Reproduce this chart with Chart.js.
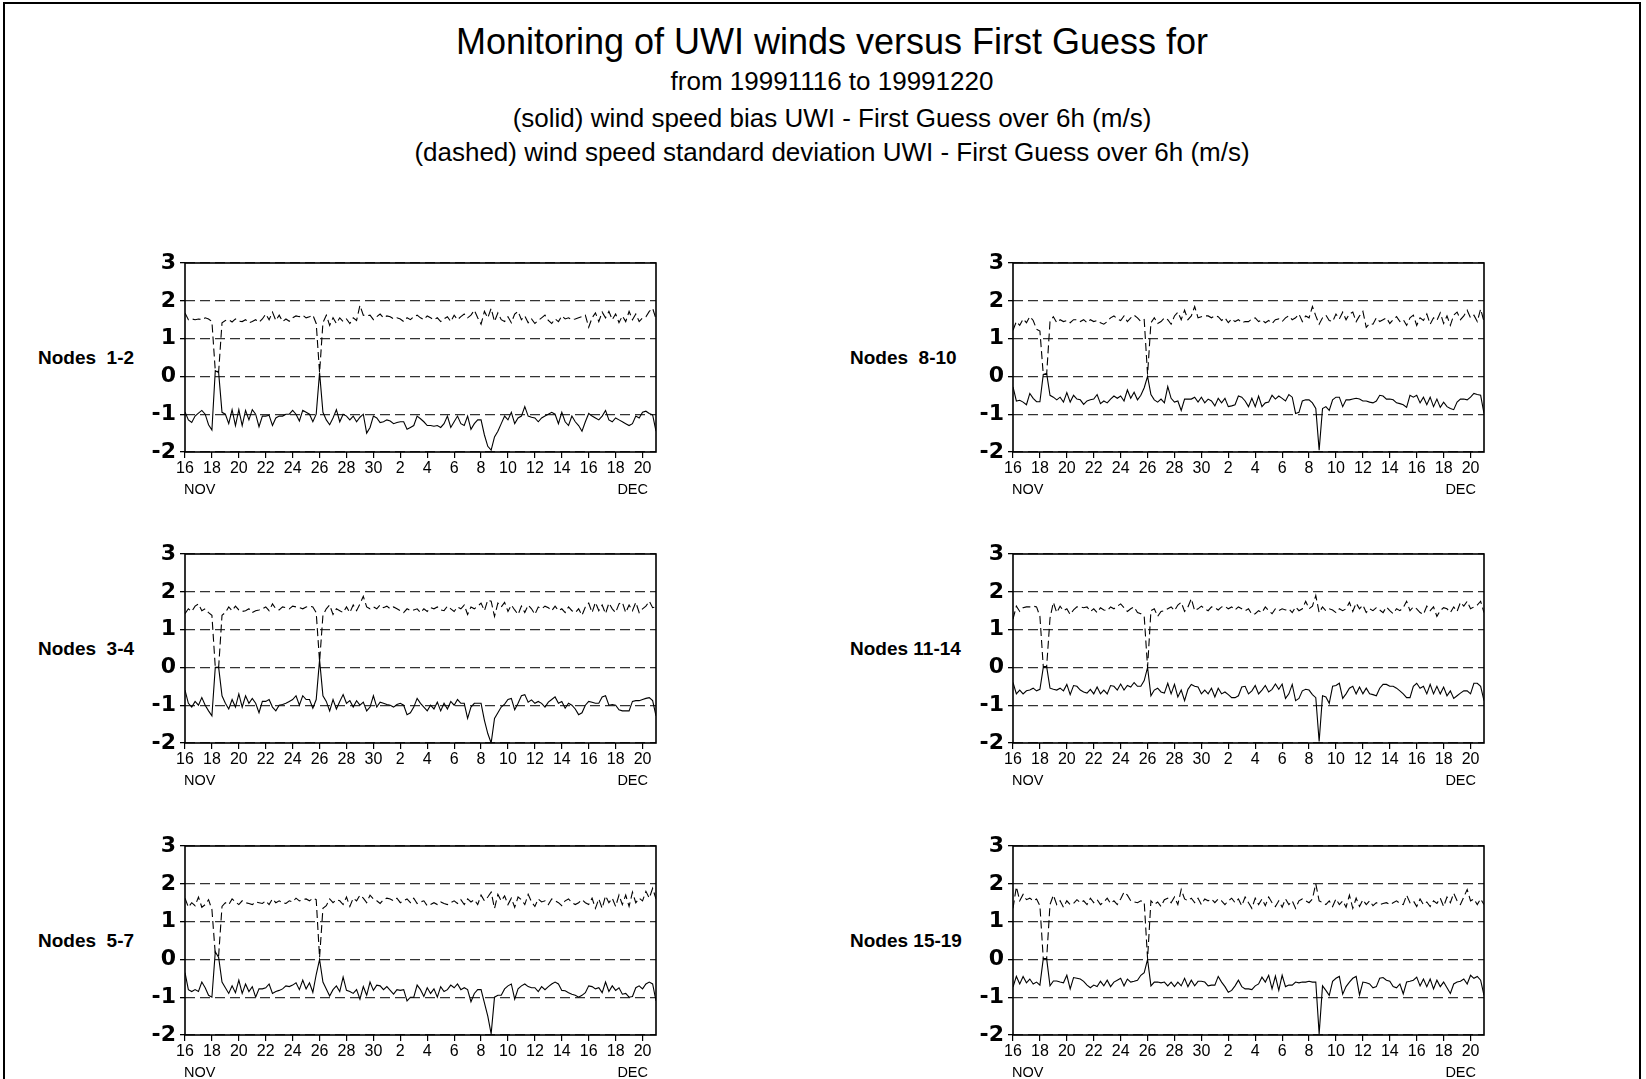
<!DOCTYPE html>
<html>
<head>
<meta charset="utf-8">
<script src="https://cdn.jsdelivr.net/npm/chart.js@4.4.1/dist/chart.umd.min.js"></script>
<style>
  body { margin: 0; background: #fff; }
  #page { position: relative; width: 1646px; height: 1079px; overflow: hidden; background: #fff;
          font-family: "Liberation Sans", Arial, sans-serif; color: #000; }
  .frame { position: absolute; left: 3px; top: 2px; width: 1634px; height: 1200px; border: 2px solid #000; }
  .head { position: absolute; left: 332px; width: 1000px; text-align: center; white-space: nowrap; }
  .node { position: absolute; font-weight: bold; font-size: 19px; line-height: 22px; white-space: nowrap; }
  canvas { position: absolute; }
</style>
</head>
<body>
<div id="page">
  <div class="frame"></div>
  <div class="head" style="top:20px;font-size:36px;line-height:44px;">Monitoring of UWI winds versus First Guess for</div>
  <div class="head" style="top:66px;font-size:26px;line-height:30px;">from 19991116 to 19991220</div>
  <div class="head" style="top:103px;font-size:26px;line-height:30px;">(solid) wind speed bias UWI - First Guess over 6h (m/s)</div>
  <div class="head" style="top:137px;font-size:26px;line-height:30px;">(dashed) wind speed standard deviation UWI - First Guess over 6h (m/s)</div>
</div>
<script>
// x axis: 6-hourly samples, 16 Nov 00Z .. 21 Dec 00Z (day offsets)
const dayLabels = ['16','18','20','22','24','26','28','30','2','4','6','8','10','12','14','16','18','20'];
const yTicks = [-2, -1, 0, 1, 2, 3];
const nodeNames = ['Nodes\u00a0\u00a01-2', 'Nodes\u00a0\u00a08-10', 'Nodes\u00a0\u00a03-4', 'Nodes 11-14', 'Nodes\u00a0\u00a05-7', 'Nodes 15-19'];

const bias12 = [
 -0.94,-1.15,-1.22,-1.05,-0.97,-0.9,-1.0,-1.28,-1.42,0.15,
 0.1,-0.95,-1.0,-1.25,-0.88,-1.3,-0.88,-1.3,-0.9,-1.15,
 -0.88,-1.0,-1.33,-1.05,-1.05,-1.03,-1.3,-1.1,-1.05,-1.05,
 -1.0,-1.0,-0.9,-1.0,-1.18,-0.9,-0.95,-1.0,-1.2,-1.0,
 0.1,-0.95,-1.15,-1.28,-1.1,-0.88,-1.2,-1.0,-1.05,-1.15,
 -1.05,-1.2,-1.08,-1.0,-1.5,-1.35,-1.05,-1.1,-1.22,-1.2,
 -1.15,-1.18,-1.25,-1.22,-1.2,-1.2,-1.4,-1.35,-1.3,-1.05,
 -1.12,-1.2,-1.3,-1.3,-1.32,-1.3,-1.35,-1.25,-1.05,-1.35,
 -1.2,-1.05,-1.25,-1.3,-1.05,-1.4,-1.25,-1.15,-1.15,-1.55,
 -1.85,-1.95,-1.6,-1.45,-1.25,-1.05,-1.15,-0.95,-1.25,-1.1,
 -1.05,-0.8,-1.05,-1.08,-1.1,-1.2,-1.1,-1.05,-1.0,-0.95,
 -1.0,-1.25,-0.95,-1.2,-1.3,-1.05,-1.2,-1.3,-1.45,-1.2,
 -0.98,-1.05,-1.1,-1.15,-1.05,-0.9,-1.15,-1.2,-1.1,-1.15,
 -1.2,-1.25,-1.3,-1.25,-1.05,-1.1,-0.95,-0.92,-0.98,-1.02,-1.45];
const std12 = [
 1.68,1.5,1.52,1.5,1.52,1.5,1.55,1.52,1.45,0.15,
 0.12,1.42,1.48,1.5,1.44,1.52,1.46,1.45,1.5,1.42,
 1.45,1.5,1.43,1.52,1.65,1.5,1.7,1.48,1.62,1.45,
 1.52,1.46,1.55,1.6,1.58,1.62,1.55,1.58,1.62,1.4,
 0.1,1.42,1.62,1.35,1.55,1.4,1.55,1.45,1.52,1.4,
 1.55,1.48,1.88,1.62,1.6,1.62,1.5,1.58,1.65,1.55,
 1.6,1.58,1.52,1.55,1.52,1.45,1.55,1.5,1.58,1.62,
 1.55,1.5,1.6,1.55,1.5,1.55,1.45,1.52,1.58,1.45,
 1.62,1.5,1.58,1.65,1.55,1.62,1.75,1.55,1.38,1.72,
 1.55,1.8,1.45,1.68,1.5,1.45,1.58,1.42,1.65,1.72,
 1.5,1.6,1.42,1.52,1.4,1.48,1.55,1.62,1.48,1.4,
 1.52,1.45,1.6,1.52,1.55,1.5,1.52,1.55,1.58,1.62,
 1.3,1.55,1.68,1.45,1.7,1.55,1.72,1.5,1.65,1.42,
 1.6,1.45,1.72,1.5,1.65,1.45,1.55,1.58,1.72,1.8,1.52];

const bias34 = [
 -0.6,-0.95,-1.05,-0.9,-1.0,-0.8,-1.0,-1.15,-1.28,0.0,
 0.0,-0.75,-0.95,-1.1,-0.85,-1.05,-0.7,-1.05,-0.75,-0.95,
 -0.82,-0.95,-1.2,-0.9,-0.9,-0.85,-1.05,-1.15,-1.0,-0.98,
 -0.95,-0.9,-0.85,-0.75,-1.0,-0.75,-0.85,-0.85,-1.08,-0.85,
 0.2,-0.75,-0.9,-1.15,-0.85,-1.1,-0.9,-0.72,-0.95,-0.88,
 -1.05,-0.88,-1.0,-0.92,-1.15,-1.05,-0.75,-1.05,-0.92,-0.95,
 -0.98,-1.0,-1.05,-0.98,-0.95,-1.0,-1.25,-1.2,-1.05,-0.82,
 -0.95,-1.05,-1.15,-1.0,-1.1,-0.92,-1.15,-0.95,-1.1,-0.9,
 -1.0,-0.85,-0.95,-0.95,-1.35,-1.05,-0.95,-0.95,-0.95,-1.4,
 -1.75,-2.0,-1.35,-1.2,-1.05,-0.97,-0.85,-0.82,-1.12,-0.95,
 -0.75,-0.72,-0.92,-0.86,-0.95,-0.9,-0.95,-1.05,-0.92,-0.85,
 -0.78,-0.95,-0.9,-1.08,-0.95,-1.0,-1.1,-1.25,-1.2,-1.0,
 -0.9,-0.92,-0.95,-0.95,-0.78,-0.75,-1.0,-0.98,-1.0,-1.12,
 -1.15,-1.15,-1.15,-0.9,-0.88,-0.88,-0.85,-0.82,-0.8,-0.88,-1.28];
const std34 = [
 1.42,1.55,1.48,1.62,1.68,1.5,1.55,1.45,1.38,0.0,
 0.0,1.38,1.45,1.6,1.5,1.62,1.52,1.48,1.5,1.55,
 1.45,1.5,1.52,1.55,1.6,1.5,1.68,1.55,1.52,1.6,
 1.58,1.55,1.62,1.6,1.58,1.55,1.6,1.62,1.6,1.45,
 0.15,1.38,1.55,1.65,1.4,1.55,1.5,1.45,1.6,1.45,
 1.65,1.5,1.68,1.88,1.6,1.55,1.6,1.55,1.65,1.58,
 1.62,1.55,1.6,1.55,1.5,1.45,1.55,1.5,1.52,1.55,
 1.45,1.55,1.48,1.58,1.55,1.6,1.52,1.5,1.62,1.55,
 1.48,1.6,1.55,1.65,1.4,1.6,1.55,1.62,1.7,1.5,
 1.78,1.75,1.35,1.7,1.6,1.72,1.48,1.65,1.52,1.4,
 1.62,1.45,1.65,1.55,1.4,1.6,1.55,1.62,1.58,1.5,
 1.62,1.5,1.55,1.45,1.6,1.5,1.45,1.55,1.38,1.6,
 1.7,1.45,1.72,1.5,1.65,1.42,1.7,1.55,1.45,1.68,
 1.72,1.45,1.65,1.5,1.72,1.45,1.55,1.62,1.75,1.58,1.6];

const bias57 = [
 -0.35,-0.8,-0.85,-0.8,-0.85,-0.6,-0.75,-0.95,-1.0,0.2,
 0.05,-0.6,-0.75,-0.9,-0.7,-0.88,-0.55,-0.9,-0.65,-0.85,
 -0.72,-1.0,-0.78,-0.78,-0.75,-0.65,-0.9,-0.85,-0.82,-0.78,
 -0.7,-0.72,-0.68,-0.62,-0.8,-0.55,-0.78,-0.62,-0.87,-0.4,
 0.0,-0.6,-0.78,-0.97,-0.8,-0.7,-0.85,-0.47,-0.82,-0.85,
 -0.9,-0.8,-1.05,-0.72,-0.95,-0.6,-0.82,-0.68,-0.7,-0.8,
 -0.72,-0.82,-0.92,-0.8,-0.82,-0.8,-1.1,-1.0,-1.0,-0.68,
 -0.8,-0.98,-0.75,-0.9,-0.78,-1.0,-0.72,-0.85,-0.8,-0.68,
 -0.75,-0.65,-0.8,-0.75,-0.8,-1.12,-0.9,-0.8,-0.8,-1.15,
 -1.5,-1.97,-1.0,-0.95,-0.95,-0.78,-0.7,-0.65,-1.05,-0.78,
 -0.7,-0.65,-0.72,-0.75,-0.75,-0.85,-0.72,-0.8,-0.72,-0.65,
 -0.6,-0.65,-0.82,-0.83,-0.88,-0.92,-0.95,-1.0,-0.95,-0.88,
 -0.7,-0.72,-0.78,-0.75,-0.88,-0.6,-0.85,-0.7,-0.82,-0.75,
 -0.92,-0.9,-1.0,-0.98,-0.75,-0.7,-0.78,-0.65,-0.6,-0.65,-1.1];
const std57 = [
 1.62,1.38,1.5,1.42,1.65,1.38,1.45,1.58,1.32,0.15,
 0.1,1.4,1.5,1.45,1.6,1.52,1.45,1.55,1.5,1.48,
 1.45,1.52,1.5,1.48,1.55,1.45,1.6,1.5,1.55,1.5,
 1.48,1.55,1.52,1.62,1.55,1.58,1.6,1.55,1.62,1.58,
 0.05,1.35,1.42,1.6,1.5,1.58,1.55,1.45,1.65,1.4,
 1.62,1.55,1.7,1.62,1.5,1.7,1.6,1.55,1.48,1.58,
 1.62,1.6,1.55,1.62,1.5,1.55,1.6,1.5,1.62,1.48,
 1.52,1.55,1.42,1.45,1.5,1.45,1.52,1.48,1.45,1.5,
 1.55,1.48,1.58,1.45,1.6,1.52,1.58,1.45,1.7,1.55,
 1.65,1.78,1.35,1.72,1.55,1.68,1.45,1.62,1.38,1.65,
 1.58,1.45,1.72,1.52,1.4,1.6,1.52,1.55,1.45,1.6,
 1.55,1.5,1.42,1.55,1.6,1.5,1.45,1.5,1.58,1.5,
 1.45,1.62,1.35,1.6,1.35,1.68,1.5,1.62,1.4,1.7,
 1.45,1.7,1.4,1.78,1.5,1.62,1.55,1.8,1.62,1.88,1.6];

const bias810 = [
 -0.28,-0.65,-0.63,-0.68,-0.75,-0.45,-0.58,-0.67,-0.67,0.05,
 0.08,-0.5,-0.55,-0.62,-0.55,-0.68,-0.43,-0.68,-0.5,-0.6,
 -0.62,-0.74,-0.65,-0.62,-0.6,-0.48,-0.72,-0.65,-0.7,-0.6,
 -0.52,-0.58,-0.52,-0.65,-0.36,-0.58,-0.42,-0.62,-0.5,-0.3,
 0.0,-0.48,-0.62,-0.68,-0.6,-0.7,-0.27,-0.58,-0.68,-0.65,
 -0.9,-0.6,-0.6,-0.6,-0.55,-0.68,-0.55,-0.7,-0.6,-0.65,
 -0.78,-0.58,-0.7,-0.58,-0.8,-0.78,-0.75,-0.52,-0.55,-0.65,
 -0.8,-0.58,-0.8,-0.52,-0.8,-0.7,-0.68,-0.5,-0.6,-0.52,
 -0.58,-0.65,-0.48,-0.55,-0.98,-0.95,-0.65,-0.62,-0.62,-0.7,
 -0.85,-1.95,-0.85,-0.8,-0.9,-0.62,-0.55,-0.55,-0.8,-0.62,
 -0.62,-0.6,-0.58,-0.6,-0.65,-0.65,-0.68,-0.7,-0.65,-0.5,
 -0.52,-0.6,-0.6,-0.62,-0.7,-0.72,-0.75,-0.82,-0.5,-0.55,
 -0.5,-0.7,-0.55,-0.75,-0.55,-0.8,-0.6,-0.82,-0.68,-0.8,
 -0.85,-0.88,-0.68,-0.6,-0.6,-0.62,-0.55,-0.45,-0.48,-0.5,-0.98];
const std810 = [
 1.22,1.45,1.35,1.52,1.42,1.58,1.48,1.25,1.2,0.05,
 0.05,1.45,1.58,1.42,1.5,1.45,1.48,1.42,1.5,1.5,
 1.45,1.5,1.42,1.5,1.45,1.48,1.42,1.38,1.45,1.55,
 1.6,1.52,1.48,1.6,1.45,1.55,1.62,1.55,1.45,1.5,
 0.05,1.42,1.55,1.4,1.45,1.55,1.5,1.38,1.6,1.7,
 1.5,1.75,1.5,1.6,1.85,1.55,1.58,1.6,1.6,1.55,
 1.6,1.58,1.48,1.55,1.42,1.52,1.45,1.5,1.42,1.45,
 1.45,1.52,1.55,1.45,1.5,1.42,1.48,1.4,1.5,1.52,
 1.45,1.55,1.6,1.5,1.55,1.65,1.45,1.6,1.55,1.85,
 1.6,1.38,1.55,1.62,1.48,1.45,1.65,1.52,1.7,1.5,
 1.65,1.7,1.45,1.6,1.72,1.3,1.4,1.38,1.55,1.45,
 1.5,1.55,1.4,1.5,1.58,1.45,1.5,1.35,1.55,1.62,
 1.35,1.55,1.48,1.65,1.38,1.55,1.48,1.68,1.4,1.6,
 1.35,1.62,1.7,1.5,1.6,1.75,1.55,1.62,1.45,1.78,1.45];

const bias1114 = [
 -0.4,-0.7,-0.6,-0.7,-0.62,-0.6,-0.55,-0.62,-0.58,0.0,
 0.02,-0.55,-0.58,-0.6,-0.55,-0.62,-0.45,-0.72,-0.48,-0.5,
 -0.6,-0.65,-0.68,-0.58,-0.7,-0.52,-0.7,-0.6,-0.7,-0.48,
 -0.5,-0.6,-0.44,-0.6,-0.48,-0.52,-0.4,-0.5,-0.5,-0.35,
 0.0,-0.75,-0.6,-0.55,-0.65,-0.68,-0.42,-0.7,-0.45,-0.78,
 -0.6,-0.88,-0.58,-0.45,-0.5,-0.52,-0.7,-0.6,-0.7,-0.55,
 -0.78,-0.55,-0.7,-0.65,-0.72,-0.8,-0.8,-0.75,-0.52,-0.5,
 -0.7,-0.62,-0.48,-0.7,-0.6,-0.48,-0.65,-0.58,-0.44,-0.58,
 -0.44,-0.82,-0.7,-0.45,-0.88,-0.82,-0.62,-0.58,-0.6,-0.72,
 -0.8,-1.96,-0.75,-0.78,-0.95,-0.5,-0.48,-0.42,-0.82,-0.7,
 -0.55,-0.5,-0.7,-0.52,-0.7,-0.55,-0.7,-0.72,-0.75,-0.55,
 -0.45,-0.45,-0.5,-0.5,-0.55,-0.62,-0.7,-0.8,-0.8,-0.5,
 -0.42,-0.55,-0.5,-0.7,-0.45,-0.7,-0.5,-0.7,-0.52,-0.75,
 -0.62,-0.82,-0.75,-0.68,-0.62,-0.62,-0.7,-0.42,-0.42,-0.5,-0.88];
const std1114 = [
 1.28,1.62,1.48,1.58,1.6,1.6,1.62,1.6,1.35,0.02,
 0.02,1.3,1.72,1.45,1.62,1.5,1.55,1.4,1.52,1.6,
 1.6,1.58,1.6,1.48,1.55,1.45,1.58,1.52,1.5,1.6,
 1.55,1.62,1.68,1.58,1.48,1.55,1.6,1.45,1.42,1.35,
 0.0,1.5,1.55,1.35,1.48,1.5,1.55,1.6,1.5,1.65,
 1.72,1.48,1.6,1.82,1.5,1.55,1.62,1.55,1.5,1.6,
 1.58,1.52,1.6,1.62,1.55,1.6,1.52,1.6,1.55,1.5,
 1.55,1.4,1.42,1.5,1.45,1.6,1.5,1.42,1.55,1.5,
 1.55,1.52,1.55,1.45,1.6,1.5,1.55,1.75,1.55,1.62,
 1.9,1.45,1.6,1.5,1.55,1.52,1.45,1.55,1.5,1.55,
 1.72,1.48,1.7,1.55,1.65,1.45,1.55,1.5,1.58,1.52,
 1.45,1.6,1.5,1.42,1.55,1.5,1.58,1.75,1.5,1.6,
 1.55,1.45,1.4,1.62,1.5,1.6,1.35,1.5,1.58,1.55,
 1.45,1.6,1.48,1.72,1.62,1.75,1.55,1.6,1.65,1.75,1.45];

const bias1519 = [
 -0.73,-0.45,-0.65,-0.45,-0.62,-0.52,-0.65,-0.6,-0.68,0.02,
 0.02,-0.7,-0.57,-0.57,-0.6,-0.62,-0.42,-0.78,-0.48,-0.5,
 -0.52,-0.58,-0.68,-0.75,-0.68,-0.72,-0.58,-0.7,-0.55,-0.72,
 -0.6,-0.55,-0.5,-0.7,-0.52,-0.6,-0.58,-0.55,-0.42,-0.35,
 0.0,-0.7,-0.6,-0.6,-0.62,-0.6,-0.7,-0.6,-0.72,-0.6,
 -0.7,-0.5,-0.72,-0.55,-0.7,-0.58,-0.58,-0.6,-0.7,-0.68,
 -0.68,-0.45,-0.6,-0.72,-0.87,-0.82,-0.7,-0.55,-0.72,-0.78,
 -0.78,-0.8,-0.7,-0.65,-0.47,-0.6,-0.42,-0.78,-0.44,-0.82,
 -0.42,-0.72,-0.68,-0.68,-0.6,-0.62,-0.6,-0.6,-0.58,-0.6,
 -0.6,-1.97,-0.7,-0.82,-0.95,-0.58,-0.5,-0.45,-0.92,-0.72,
 -0.6,-0.5,-0.45,-0.94,-0.6,-0.62,-0.65,-0.75,-0.72,-0.5,
 -0.48,-0.55,-0.58,-0.72,-0.75,-0.65,-0.91,-0.6,-0.58,-0.55,
 -0.47,-0.7,-0.52,-0.72,-0.52,-0.78,-0.55,-0.72,-0.6,-0.75,
 -0.9,-0.65,-0.6,-0.58,-0.52,-0.65,-0.42,-0.5,-0.45,-0.55,-0.95];
const std1519 = [
 1.35,1.92,1.55,1.72,1.58,1.62,1.55,1.6,1.42,0.02,
 0.02,1.45,1.7,1.45,1.55,1.38,1.55,1.45,1.48,1.58,
 1.5,1.55,1.45,1.62,1.5,1.58,1.45,1.52,1.62,1.48,
 1.55,1.45,1.6,1.78,1.7,1.55,1.52,1.5,1.55,1.52,
 0.02,1.55,1.45,1.52,1.4,1.58,1.62,1.5,1.65,1.45,
 1.85,1.6,1.55,1.62,1.5,1.62,1.45,1.6,1.55,1.6,
 1.5,1.6,1.55,1.45,1.55,1.62,1.5,1.6,1.42,1.65,
 1.5,1.35,1.62,1.45,1.6,1.42,1.65,1.5,1.4,1.55,
 1.38,1.6,1.45,1.55,1.35,1.55,1.6,1.55,1.5,1.6,
 2.0,1.55,1.5,1.45,1.55,1.4,1.6,1.45,1.55,1.38,
 1.7,1.35,1.62,1.4,1.58,1.45,1.55,1.42,1.5,1.45,
 1.48,1.5,1.45,1.5,1.55,1.48,1.45,1.7,1.5,1.55,
 1.4,1.6,1.45,1.52,1.4,1.55,1.48,1.62,1.4,1.65,
 1.5,1.75,1.55,1.45,1.65,1.85,1.55,1.6,1.45,1.6,1.45];

// panel order: row by row, left then right
const biasSeries = [bias12, bias810, bias34, bias1114, bias57, bias1519];
const stdSeries = [std12, std810, std34, std1114, std57, std1519];

// layout (px)
const colLeft = [185, 1013];
const rowTop = [263, 554, 846];
const nameLeft = [38, 850];
const PLOT_W = 471, PLOT_H = 189;
const AXIS_W = 60, AXIS_H = 55, PAD_T = 22, PAD_R = 16;
const FONT = '"Liberation Sans", Arial, sans-serif';

// sample times in days since 16 Nov 00Z (every 6 h)
const sampleDays = bias12.map((_, i) => i / 4);

const framePlugin = {
  id: 'frame',
  afterDraw(chart) {
    const { ctx, chartArea: a } = chart;
    ctx.save();
    ctx.strokeStyle = '#000';
    ctx.lineWidth = 1.6;
    ctx.setLineDash([]);
    ctx.strokeRect(a.left, a.top, a.right - a.left, a.bottom - a.top);
    ctx.fillStyle = '#000';
    ctx.font = '14.5px ' + FONT;
    ctx.textBaseline = 'alphabetic';
    ctx.textAlign = 'left';
    ctx.fillText('NOV', a.left - 1, a.bottom + 42);
    ctx.textAlign = 'right';
    ctx.fillText('DEC', a.right - 8, a.bottom + 42);
    ctx.restore();
  }
};

const page = document.getElementById('page');

function makePanel(k) {
  const col = k % 2, row = Math.floor(k / 2);
  const left = colLeft[col], top = rowTop[row];

  const label = document.createElement('div');
  label.className = 'node';
  label.textContent = nodeNames[k];
  label.style.left = nameLeft[col] + 'px';
  label.style.top = (top + PLOT_H / 2 - 11) + 'px';
  page.appendChild(label);

  const cv = document.createElement('canvas');
  cv.width = AXIS_W + PLOT_W + PAD_R;
  cv.height = PAD_T + PLOT_H + AXIS_H;
  cv.style.left = (left - AXIS_W) + 'px';
  cv.style.top = (top - PAD_T) + 'px';
  page.appendChild(cv);

  new Chart(cv, {
    type: 'line',
    data: {
      labels: sampleDays,
      datasets: [
        { data: biasSeries[k], borderColor: '#000', borderWidth: 1.1, pointRadius: 0, tension: 0, fill: false },
        { data: stdSeries[k], borderColor: '#000', borderWidth: 1.1, borderDash: [8, 4], pointRadius: 0, tension: 0, fill: false }
      ]
    },
    options: {
      responsive: false,
      animation: false,
      devicePixelRatio: 1,
      layout: { padding: { top: PAD_T, right: PAD_R, left: 0, bottom: 0 } },
      plugins: { legend: { display: false }, tooltip: { enabled: false } },
      scales: {
        x: {
          type: 'linear', min: 0, max: 35,
          afterBuildTicks: s => { s.ticks = dayLabels.map((_, j) => ({ value: j * 2 })); },
          afterFit: s => { s.height = AXIS_H; },
          ticks: { callback: (v, j) => dayLabels[j], autoSkip: false, maxRotation: 0, padding: 1,
                   color: '#000', font: { family: FONT, size: 16 } },
          grid: { drawOnChartArea: false, drawTicks: true, tickLength: 6, color: '#000', lineWidth: 1.2 },
          border: { display: false }
        },
        y: {
          min: -2, max: 3,
          afterBuildTicks: s => { s.ticks = yTicks.map(v => ({ value: v })); },
          afterFit: s => { s.width = AXIS_W; },
          ticks: { padding: 4, color: '#000', callback: v => String(v),
                   font: { family: '"DejaVu Sans", sans-serif', weight: 'bold', size: 22 } },
          grid: { color: '#333', lineWidth: 1.3, tickLength: 5, tickColor: '#000', tickBorderDash: [] },
          border: { display: false, dash: [10, 5] }
        }
      }
    },
    plugins: [framePlugin]
  });
}

for (let k = 0; k < 6; k++) makePanel(k);
</script>
</body>
</html>
